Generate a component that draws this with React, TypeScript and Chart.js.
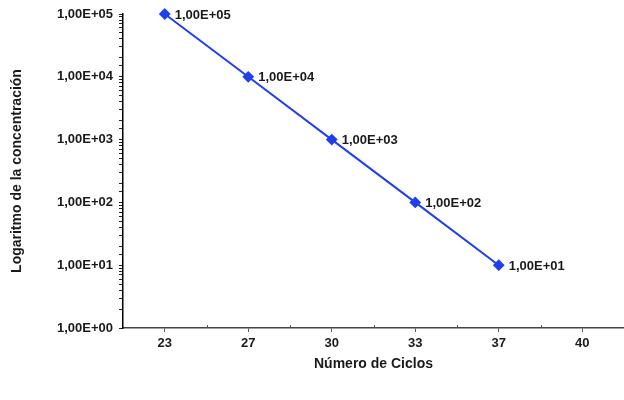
import React, { useEffect, useRef } from "react";
import { Chart, registerables } from "chart.js";

Chart.register(...registerables);

const cycles = ["23", "27", "30", "33", "37", "40"];
const concentration: (number | null)[] = [100000, 10000, 1000, 100, 10, null];
const pointLabels = ["1,00E+05", "1,00E+04", "1,00E+03", "1,00E+02", "1,00E+01", ""];
const yTickValues = [1, 10, 100, 1000, 10000, 100000];
const yTickLabels = ["1,00E+00", "1,00E+01", "1,00E+02", "1,00E+03", "1,00E+04", "1,00E+05"];

const FONT = "'Liberation Sans', Arial, sans-serif";
const TEXT = "#1a1a1a";
const BLUE = "#1f3ff0";

const labelPlugin = {
  id: "pointLabels",
  afterDatasetsDraw(chart: any) {
    const ctx = chart.ctx;
    const meta = chart.getDatasetMeta(0);
    ctx.save();
    ctx.font = `bold 13px ${FONT}`;
    ctx.fillStyle = TEXT;
    ctx.textAlign = "left";
    ctx.textBaseline = "middle";
    meta.data.forEach((pt: any, i: number) => {
      if (concentration[i] == null || !pointLabels[i]) return;
      ctx.fillText(pointLabels[i], pt.x + 10, pt.y + 1);
    });
    ctx.restore();
  },
};

const xMinorTicks = {
  id: "xMinorTicks",
  afterDraw(chart: any) {
    const x = chart.scales.x;
    const ctx = chart.ctx;
    const y0 = chart.chartArea.bottom;
    ctx.save();
    ctx.strokeStyle = "#555";
    ctx.lineWidth = 1;
    for (let i = 0; i < cycles.length; i++) {
      const p = x.getPixelForValue(i);
      const half = (x.getPixelForValue(1) - x.getPixelForValue(0)) / 2;
      const b = Math.round(p + half) + 0.5;
      ctx.beginPath();
      ctx.moveTo(b, y0 - 3);
      ctx.lineTo(b, y0);
      ctx.stroke();
    }
    ctx.restore();
  },
};

export default function App() {
  const ref = useRef<HTMLCanvasElement>(null);

  useEffect(() => {
    if (!ref.current) return;
    const chart = new Chart(ref.current, {
      type: "line",
      data: {
        labels: cycles,
        datasets: [
          {
            data: concentration,
            borderColor: BLUE,
            backgroundColor: BLUE,
            borderWidth: 2,
            pointStyle: "rectRot",
            pointRadius: 4.5,
            pointBackgroundColor: BLUE,
            pointBorderColor: BLUE,
            tension: 0,
            spanGaps: false,
            clip: false,
          },
        ],
      },
      options: {
        animation: false,
        responsive: true,
        maintainAspectRatio: false,
        layout: { autoPadding: false, padding: { top: 14, right: 0, left: 0, bottom: 0 } },
        plugins: {
          legend: { display: false },
          tooltip: { enabled: false },
        },
        scales: {
          x: {
            type: "category",
            offset: true,
            border: { color: "#444", width: 1.5 },
            grid: {
              display: true,
              drawOnChartArea: false,
              drawTicks: true,
              tickLength: 4,
              offset: false,
              color: "#555",
            },
            ticks: {
              color: TEXT,
              font: { family: FONT, size: 13, weight: "bold" },
              padding: 4,
              maxRotation: 0,
            },
            title: {
              display: true,
              text: "Número de Ciclos",
              color: TEXT,
              font: { family: FONT, size: 14, weight: "bold" },
              padding: { top: 4, bottom: 27 },
            },
            afterFit: (scale: any) => {
              scale.height = 72;
              scale.paddingRight = 0;
              scale.paddingLeft = 0;
            },
          },
          y: {
            type: "logarithmic",
            min: 1,
            max: 100000,
            border: { color: "#000", width: 1.5 },
            grid: {
              display: true,
              drawOnChartArea: false,
              drawTicks: true,
              tickLength: 4,
              color: "#222",
            },
            ticks: {
              autoSkip: false,
              color: TEXT,
              font: { family: FONT, size: 13, weight: "bold" },
              padding: 6,
              callback: (value: any) => {
                const idx = yTickValues.indexOf(Number(value));
                return idx >= 0 ? yTickLabels[idx] : "";
              },
            },
            title: {
              display: true,
              text: "Logaritmo de la concentración",
              color: TEXT,
              font: { family: FONT, size: 14, weight: "bold" },
              padding: { top: 9, bottom: 4 },
            },
            afterFit: (scale: any) => {
              scale.width = 123;
            },
          },
        },
      } as any,
      plugins: [labelPlugin, xMinorTicks],
    });
    return () => chart.destroy();
  }, []);

  return (
    <div style={{ position: "absolute", left: 0, top: 0, width: 624, height: 400, background: "#fff" }}>
      <canvas ref={ref} />
    </div>
  );
}
